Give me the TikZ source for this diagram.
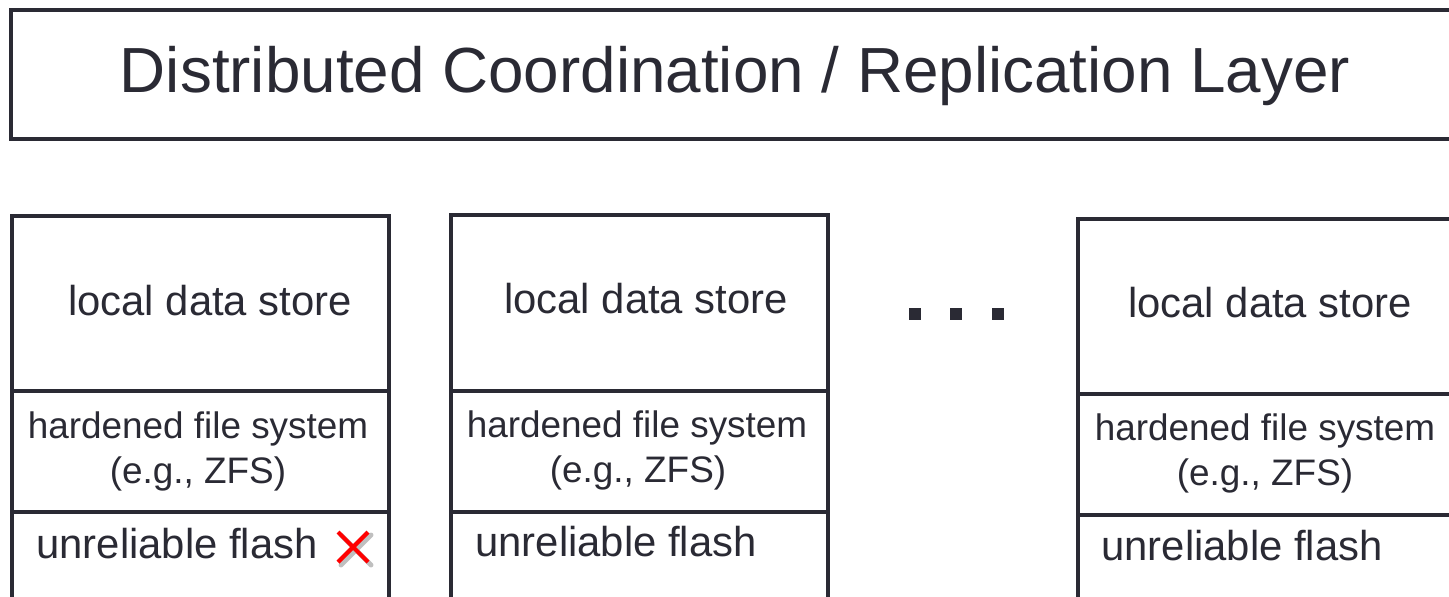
\documentclass[tikz,border=0pt]{standalone}
\usepackage{fontspec}
\setmainfont{Liberation Sans}
\usepackage{tikz}
\usetikzlibrary{positioning}

\definecolor{ink}{RGB}{42,42,52}

\tikzset{
  layerbox/.style={draw=ink, line width=2.3pt},
  bigtxt/.style={text=ink, font=\fontsize{36.3}{40}\selectfont, anchor=base, inner sep=0pt},
  storetxt/.style={text=ink, font=\fontsize{23.8}{27}\selectfont, anchor=base, inner sep=0pt},
  fstxt/.style={text=ink, font=\fontsize{21}{24}\selectfont, anchor=base, inner sep=0pt},
  flashtxt/.style={text=ink, font=\fontsize{23.8}{27}\selectfont, anchor=base west, inner sep=0pt}
}

\begin{document}
\begin{tikzpicture}[x=0.02cm,y=-0.02cm]
    \useasboundingbox (0,0) rectangle (1449,596);
    \clip (0,0) rectangle (1449,596);
    \fill[white] (0,0) rectangle (1449,596);

    % coordination layer
    \draw[layerbox] (11,10) rectangle (1470,139);
    \node[bigtxt] (layer) at (735,92) {Distributed Coordination / Replication Layer};

    % first node (failed flash)
    \draw[layerbox] (12,620) -- (12,216) -- (389,216) -- (389,620);
    \draw[layerbox] (12,391) -- (389,391);
    \draw[layerbox] (12,512) -- (389,512);
    \node[storetxt] (store1) at (210,315) {local data store};
    \node[fstxt] (fs1) at (198,438) {hardened file system};
    \node[fstxt] (zfs1) at (198,483) {(e.g., ZFS)};
    \node[flashtxt] (flash1) at (36,558) {unreliable flash};
    \coordinate (fail) at (353,547);
    \draw[black!25, line width=2.8pt, line cap=round] ([shift={(3,3)}]fail) +(-15,-15) -- +(15,15);
    \draw[black!25, line width=2.8pt, line cap=round] ([shift={(3,3)}]fail) +(-15,15) -- +(15,-15);
    \draw[red, line width=2.4pt] (fail) +(-15,-15) -- +(15,15);
    \draw[red, line width=2.4pt] (fail) +(-15,15) -- +(15,-15);

    % second node
    \draw[layerbox] (451,620) -- (451,215) -- (828,215) -- (828,620);
    \draw[layerbox] (451,391) -- (828,391);
    \draw[layerbox] (451,512) -- (828,512);
    \node[storetxt] (store2) at (646,313) {local data store};
    \node[fstxt] (fs2) at (637,437) {hardened file system};
    \node[fstxt] (zfs2) at (638,482) {(e.g., ZFS)};
    \node[flashtxt] (flash2) at (475,556) {unreliable flash};

    % dots
    \fill[ink] (909,308) rectangle (921,320);
    \fill[ink] (950,308) rectangle (962,320);
    \fill[ink] (992,308) rectangle (1004,320);

    % last node
    \draw[layerbox] (1078,620) -- (1078,219) -- (1470,219);
    \draw[layerbox] (1078,394) -- (1470,394);
    \draw[layerbox] (1078,515) -- (1470,515);
    \node[storetxt] (store3) at (1270,317) {local data store};
    \node[fstxt] (fs3) at (1265,440) {hardened file system};
    \node[fstxt] (zfs3) at (1265,485) {(e.g., ZFS)};
    \node[flashtxt] (flash3) at (1101,560) {unreliable flash};
\end{tikzpicture}
\end{document}
